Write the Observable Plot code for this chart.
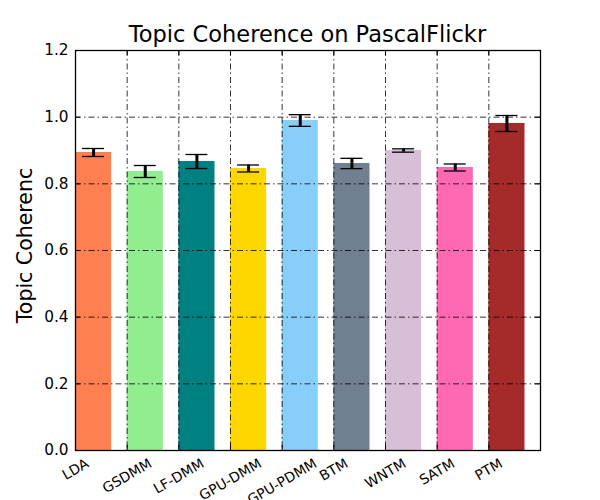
<!DOCTYPE html>
<html>
<head>
<meta charset="utf-8">
<script src="https://cdn.jsdelivr.net/npm/d3@7"></script>
<script src="https://cdn.jsdelivr.net/npm/@observablehq/plot@0.6"></script>
<style>
  html, body { margin: 0; padding: 0; background: #fff; }
  #wrap { width: 600px; height: 500px; position: relative; font-family: "DejaVu Sans", sans-serif; }
  #title { box-sizing: border-box; height: 45px; padding-top: 23px; margin-left: 75px; width: 465px;
           text-align: center; font-size: 22.5px; line-height: 22.5px; color: #000; white-space: nowrap; }
  #chart svg { display: block; }
</style>
</head>
<body>
<div id="wrap">
  <div id="title">Topic Coherence on PascalFlickr</div>
  <div id="chart"></div>
</div>
<script>
const categories = ["LDA", "GSDMM", "LF-DMM", "GPU-DMM", "GPU-PDMM", "BTM", "WNTM", "SATM", "PTM"];
const coherence = [0.894, 0.837, 0.867, 0.846, 0.990, 0.861, 0.900, 0.849, 0.981];
const errors = [0.012, 0.018, 0.021, 0.0105, 0.0175, 0.0155, 0.005, 0.0105, 0.024];
const barColors = ["#FF7F50", "#90EE90", "#008080", "#FFD700", "#87CEFA", "#708090", "#D8BFD8", "#FF69B4", "#A52A2A"];
const yTicks = [0, 0.2, 0.4, 0.6, 0.8, 1.0, 1.2];
const yTickLabels = ["0.0", "0.2", "0.4", "0.6", "0.8", "1.0", "1.2"];
const yLabel = "Topic Coherenc";

const W = 600, H = 455, mT = 5, mB = 50, mL = 75, mR = 60;
const xDomain = [0, 9], yDomain = [0, 1.2];
const xPerPx = (xDomain[1] - xDomain[0]) / (W - mL - mR);
const yPerPx = (yDomain[1] - yDomain[0]) / (H - mT - mB);
const barW = 0.7;
const xFont = 13.9;

const ctx = document.createElement("canvas").getContext("2d");
ctx.font = `${xFont}px "DejaVu Sans"`;
function labelCenterPx(name) {
  const L = ctx.measureText(name).width;
  const bh = L * 0.5 + 1.164 * xFont * 0.866;
  return 5 + bh / 2;
}

const rows = categories.map((name, i) => ({name, i, value: coherence[i], err: errors[i], color: barColors[i]}));
const innerX = d3.range(1, 9);
const gridY = yTicks.filter(t => t > 0 && t < 1.2);
const capHalf = 11 * xPerPx;
const tick = 5;

const chart = Plot.plot({
  width: W, height: H,
  marginTop: mT, marginBottom: mB, marginLeft: mL, marginRight: mR,
  style: {fontFamily: '"DejaVu Sans", sans-serif', color: "#000", background: "#fff", overflow: "visible"},
  x: {domain: xDomain, axis: null},
  y: {domain: yDomain, axis: null},
  color: {type: "identity"},
  marks: [
    Plot.rect(rows, {x1: d => d.i, x2: d => d.i + barW, y1: 0, y2: d => d.value, fill: d => d.color}),
    Plot.ruleY(gridY, {stroke: "#000", strokeWidth: 0.8, strokeDasharray: "6,3,1.5,3"}),
    Plot.ruleX(innerX, {stroke: "#000", strokeWidth: 0.8, strokeDasharray: "6,3,1.5,3"}),
    // error bars
    Plot.ruleX(rows, {x: d => d.i + barW / 2, y1: d => d.value - d.err, y2: d => d.value + d.err, stroke: "#000", strokeWidth: 3}),
    Plot.ruleY(rows, {y: d => d.value - d.err, x1: d => d.i + barW / 2 - capHalf, x2: d => d.i + barW / 2 + capHalf, stroke: "#000", strokeWidth: 1.3}),
    Plot.ruleY(rows, {y: d => d.value + d.err, x1: d => d.i + barW / 2 - capHalf, x2: d => d.i + barW / 2 + capHalf, stroke: "#000", strokeWidth: 1.3}),
    // inward ticks
    Plot.ruleY(yTicks, {x1: 0, x2: tick * xPerPx, stroke: "#000", strokeWidth: 1}),
    Plot.ruleY(yTicks, {x1: 9 - tick * xPerPx, x2: 9, stroke: "#000", strokeWidth: 1}),
    Plot.ruleX(innerX, {y1: 0, y2: tick * yPerPx, stroke: "#000", strokeWidth: 1}),
    Plot.ruleX(innerX, {y1: 1.2 - tick * yPerPx, y2: 1.2, stroke: "#000", strokeWidth: 1}),
    Plot.frame({stroke: "#000", strokeWidth: 1.3}),
    Plot.axisY(yTicks, {anchor: "left", tickSize: 0, tickPadding: 7, fontSize: 15.3, tickFormat: (d) => yTickLabels[yTicks.indexOf(d)], label: null}),
    Plot.text(rows, {x: d => d.i, y: d => -labelCenterPx(d.name) * yPerPx, text: "name", rotate: -30,
      textAnchor: "middle", lineAnchor: "middle", fontSize: xFont, fill: "#000"}),
    Plot.text([yLabel], {frameAnchor: "left", rotate: -90, dx: -50, dy: -5, fontSize: 20.5, textAnchor: "middle", lineAnchor: "middle", fill: "#000"})
  ]
});
document.getElementById("chart").appendChild(chart);
</script>
</body>
</html>
